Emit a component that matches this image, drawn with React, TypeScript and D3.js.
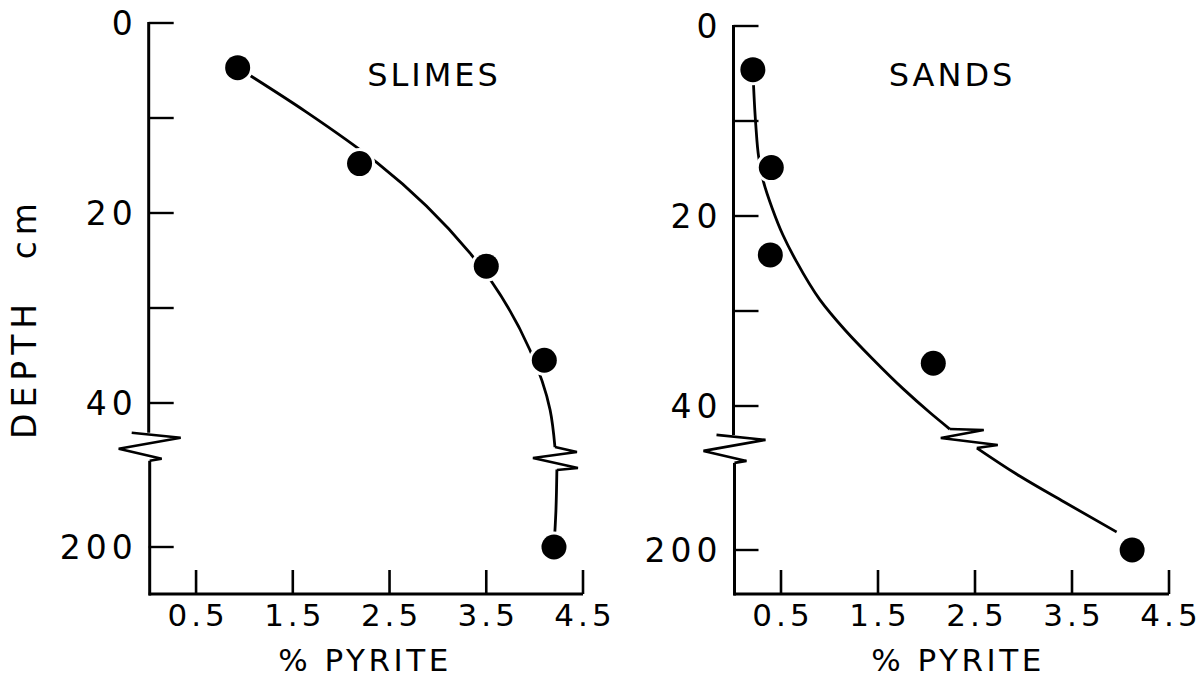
import React from "react";
import * as d3 from "d3";

// ---------- data ----------
const xTicks = [0.5, 1.5, 2.5, 3.5, 4.5];
const xTickLabels = ["0.5", "1.5", "2.5", "3.5", "4.5"];
const yTicks = [0, 10, 20, 30, 40, 200];
const yTickLabels = ["0", "", "20", "", "40", "200"];

// SLIMES observations
const slimesPyrite = [0.93, 2.19, 3.5, 4.1, 4.2];
const slimesDepth = [4.7, 14.8, 25.6, 35.5, 200];
// SLIMES hand-drawn curve (above / below the break)
const slimesCurveUpperPyrite = [0.93, 1.63, 2.37, 3.33, 3.95, 4.16, 4.21];
const slimesCurveUpperDepth = [4.7, 9.3, 14.7, 24.2, 34.4, 47.8, 88.9];
const slimesCurveLowerPyrite = [4.23, 4.22, 4.2];
const slimesCurveLowerDepth = [114, 160, 200];

// SANDS observations
const sandsPyrite = [0.21, 0.4, 0.39, 2.07, 4.12];
const sandsDepth = [4.6, 14.9, 24.1, 35.5, 200];
// SANDS hand-drawn curve
const sandsCurveUpperPyrite = [0.21, 0.24, 0.27, 0.32, 0.41, 0.52, 0.66, 0.9, 1.16, 1.44, 1.76, 2.04, 2.24];
const sandsCurveUpperDepth = [4.6, 10.4, 13.8, 16.4, 19.2, 22.0, 24.8, 28.8, 32.0, 35.0, 38.2, 47.8, 65.6];
const sandsCurveLowerPyrite = [2.52, 2.96, 3.42, 3.96];
const sandsCurveLowerDepth = [86.7, 117.8, 146.7, 180];

// ---------- styling ----------
const FONT = "'DejaVu Sans', sans-serif";
const INK = "#000";

type Pt = [number, number];

interface PanelProps {
  title: string;
  titleX: number;
  x0: number;
  x1: number;
  yTop: number;
  axisY: number;
  px: number[];
  py: number[];
  cuX: number[];
  cuY: number[];
  clX: number[];
  clY: number[];
  curveZig: Pt[];
  axisBreakDepth: number;
  xTitleX: number;
}

const axisZig: Pt[] = [
  [-17, 1],
  [32, 6],
  [-30, 17],
  [13, 27],
  [1, 29],
];

function Panel(p: PanelProps) {
  const x = d3.scaleLinear().domain([0, 4.5]).range([p.x0, p.x1]);
  const y = d3.scaleLinear().domain([0, 40, 200]).range([p.yTop, p.yTop + 380, p.yTop + 524]);
  const ax = x(0) + 1;

  const line = d3
    .line<Pt>()
    .x((d) => x(d[0]))
    .y((d) => y(d[1]))
    .curve(d3.curveMonotoneY);

  const upper: Pt[] = p.cuX.map((v, i) => [v, p.cuY[i]]);
  const lower: Pt[] = p.clX.map((v, i) => [v, p.clY[i]]);

  const lastU = upper[upper.length - 1];
  const zx = x(lastU[0]);
  const zy = y(lastU[1]);
  const zig = d3.line()([[zx, zy], ...p.curveZig.map(([dx, dy]) => [zx + dx, zy + dy] as Pt)]) || "";

  const by = y(p.axisBreakDepth);
  const axisZigPath = d3.line()(axisZig.map(([dx, dy]) => [ax + dx, by + dy] as Pt)) || "";
  const lowerStart = by + axisZig[axisZig.length - 1][1];

  const ls = 4;
  return (
    <g>
      {/* y axis */}
      <line x1={ax} x2={ax} y1={y(0) - 1} y2={by + 1} stroke={INK} strokeWidth={3} />
      <path d={axisZigPath} fill="none" stroke={INK} strokeWidth={2.6} strokeLinejoin="miter" />
      <line x1={ax + 1} x2={ax + 1} y1={lowerStart} y2={p.axisY + 1.5} stroke={INK} strokeWidth={3} />
      {yTicks.map((t, i) => (
        <g key={"yt" + t}>
          <line x1={ax} x2={ax + 25} y1={y(t)} y2={y(t)} stroke={INK} strokeWidth={2.4} />
          {yTickLabels[i] && (
            <text
              x={ax - 16 + 5}
              y={y(t) + 12}
              textAnchor="end"
              fontFamily={FONT}
              fontSize={33}
              letterSpacing={5}
              fill={INK}
            >
              {yTickLabels[i]}
            </text>
          )}
        </g>
      ))}
      {/* x axis */}
      <line x1={ax} x2={x(4.5)} y1={p.axisY} y2={p.axisY} stroke={INK} strokeWidth={3} />
      {xTicks.map((t, i) => (
        <g key={"xt" + t}>
          <line x1={x(t)} x2={x(t)} y1={p.axisY} y2={p.axisY - 24} stroke={INK} strokeWidth={2.6} />
          <text
            x={x(t) + ls / 2}
            y={626}
            textAnchor="middle"
            fontFamily={FONT}
            fontSize={31}
            letterSpacing={ls}
            fill={INK}
          >
            {xTickLabels[i]}
          </text>
        </g>
      ))}
      <text
        x={p.xTitleX}
        y={671}
        textAnchor="middle"
        fontFamily={FONT}
        fontSize={31}
        letterSpacing={3.5}
        fill={INK}
      >
        % PYRITE
      </text>
      {/* curve */}
      <path d={line(upper) || ""} fill="none" stroke={INK} strokeWidth={2.8} />
      <path d={zig} fill="none" stroke={INK} strokeWidth={2.4} />
      <path d={line(lower) || ""} fill="none" stroke={INK} strokeWidth={2.8} />
      {/* points */}
      {p.px.map((v, i) => (
        <circle key={"c" + i} cx={x(v)} cy={y(p.py[i])} r={12.5} fill={INK} stroke="#fff" strokeWidth={6} paintOrder="stroke" />
      ))}
      <text x={p.titleX} y={86} textAnchor="middle" fontFamily={FONT} fontSize={32} letterSpacing={3} fill={INK}>
        {p.title}
      </text>
    </g>
  );
}

export default function App() {
  return (
    <svg
      width={1201}
      height={680}
      viewBox="0 0 1201 680"
      style={{ position: "absolute", left: 0, top: 0, background: "#fff" }}
    >
      <rect width={1201} height={680} fill="#fff" />
      <text
        transform="translate(36,318) rotate(-90)"
        textAnchor="middle"
        fontFamily={FONT}
        fontSize={33}
        letterSpacing={6}
        wordSpacing={22}
        fill={INK}
      >
        DEPTH cm
      </text>
      <Panel
        title="SLIMES"
        titleX={434}
        x0={147.7}
        x1={583}
        yTop={23}
        axisY={594}
        px={slimesPyrite}
        py={slimesDepth}
        cuX={slimesCurveUpperPyrite}
        cuY={slimesCurveUpperDepth}
        clX={slimesCurveLowerPyrite}
        clY={slimesCurveLowerDepth}
        curveZig={[
          [22, 5],
          [-22, 11],
          [23, 21],
          [2, 23],
        ]}
        axisBreakDepth={72}
        xTitleX={365}
      />
      <Panel
        title="SANDS"
        titleX={952}
        x0={732.5}
        x1={1169}
        yTop={26}
        axisY={594}
        px={sandsPyrite}
        py={sandsDepth}
        cuX={sandsCurveUpperPyrite}
        cuY={sandsCurveUpperDepth}
        clX={sandsCurveLowerPyrite}
        clY={sandsCurveLowerDepth}
        curveZig={[
          [34, 1],
          [-9, 9],
          [48, 16],
          [27, 19],
        ]}
        axisBreakDepth={71}
        xTitleX={958}
      />
    </svg>
  );
}
